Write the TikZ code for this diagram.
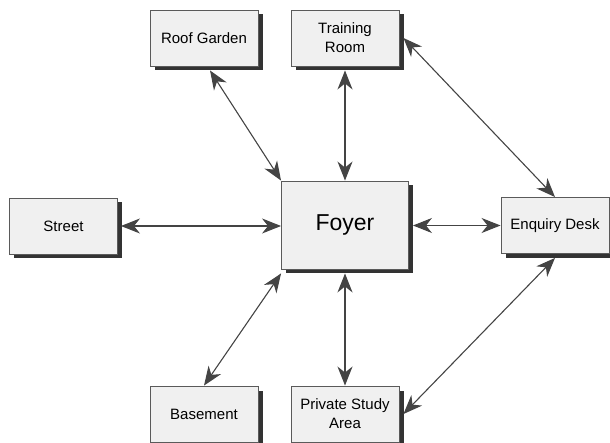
\documentclass[tikz,border=0pt]{standalone}
\usepackage{fontspec}
\setmainfont{Liberation Sans}
\usetikzlibrary{arrows.meta, shadows}

\definecolor{boxfill}{HTML}{F0F0F0}
\definecolor{boxline}{HTML}{5A5A5A}
\definecolor{shade}{HTML}{333333}
\definecolor{linkgray}{HTML}{444444}

\begin{document}
\begin{tikzpicture}[
    x=1pt, y=-1pt,
    every node/.style={},
    room/.style={draw=boxline, line width=.9pt, fill=boxfill,
      minimum width=108pt, minimum height=56pt, inner sep=0pt,
      align=center, font=\fontsize{15}{19}\selectfont,
      drop shadow={shadow xshift=4.5pt, shadow yshift=-4.5pt,
        fill=shade, opacity=1}},
    link/.style={draw=linkgray, line width=1.1pt,
      {Stealth[length=19pt, width=15pt, inset=6pt]}-{Stealth[length=19pt, width=15pt, inset=6pt]}}]

      \useasboundingbox (0,0) rectangle (610,443);

      % rooms
      \node[room] (foyer) at (345,225) [minimum width=127pt, minimum height=88pt,
        font=\fontsize{23}{27}\selectfont] {Foyer};

      \node[room] (roof)     at (204,38)  {Roof Garden};
      \node[room] (training) at (345,38)  {Training\\Room};
      \node[room] (street)   at (63.5,226) {Street};
      \node[room] (enquiry)  at (555,225.5) {Enquiry Desk};
      \node[room] (basement) at (204,414) {Basement};
      \node[room] (study)    at (345,414) {Private Study\\Area};

      % links to the foyer
      \draw[link] ([shift={(6pt,-4pt)}]roof.south) -- (foyer.north west);
      \draw[link] ([yshift=-4pt]training.south) -- (foyer.north);
      \draw[link] ([xshift=3pt]street.east) -- (street.east -| foyer.west);
      \draw[link] ([xshift=4pt]foyer.east |- enquiry.west) -- (enquiry.west);
      \draw[link] (basement.north) -- ([yshift=-4pt]foyer.south west);
      \draw[link] ([yshift=-4pt]foyer.south) -- (study.north);

      % links to the enquiry desk
      \draw[link] ([xshift=4pt]training.east) -- (enquiry.north);
      \draw[link] ([yshift=-4pt]enquiry.south) -- ([xshift=4pt]study.east);

    \end{tikzpicture}
\end{document}
